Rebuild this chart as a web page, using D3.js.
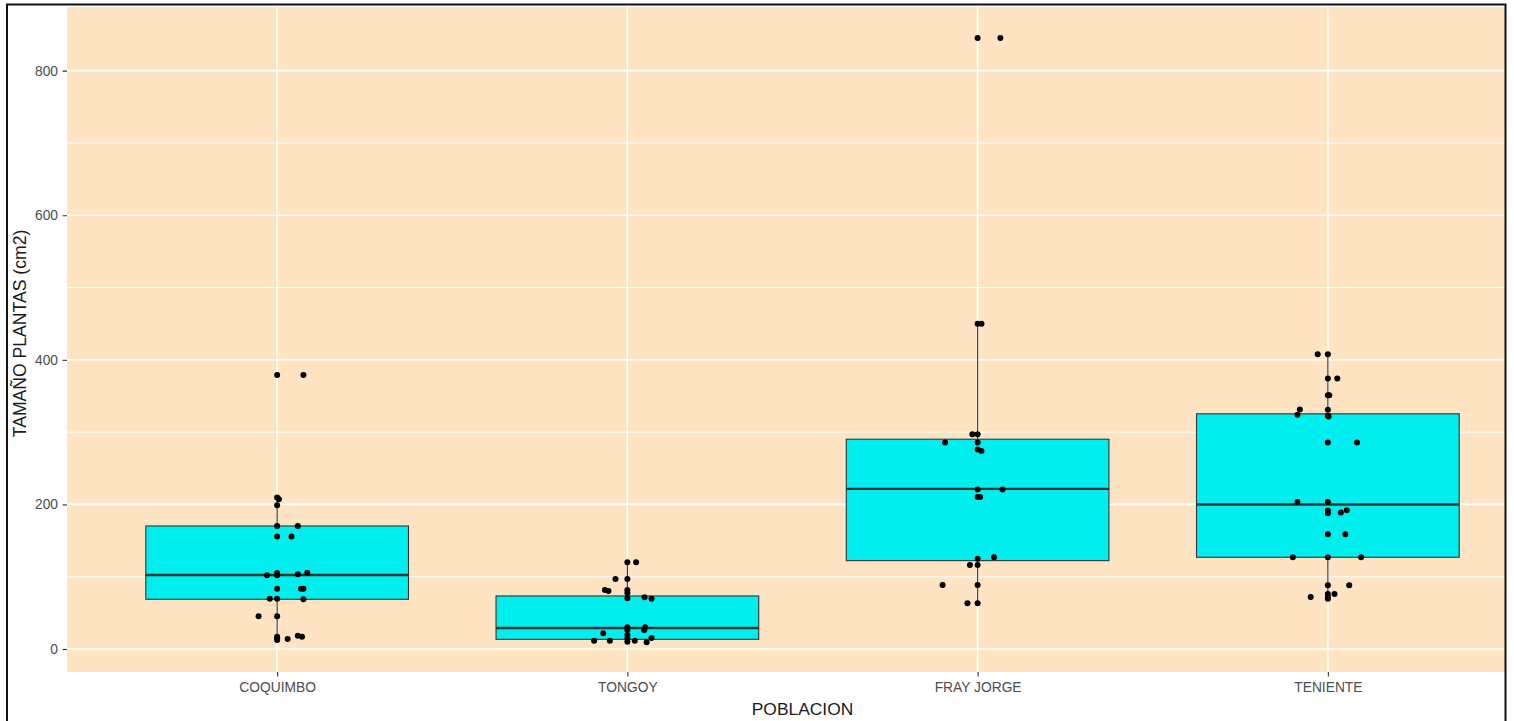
<!DOCTYPE html>
<html>
<head>
<meta charset="utf-8">
<script src="https://cdn.jsdelivr.net/npm/d3@7"></script>
<style>
  html, body { margin: 0; padding: 0; background: #ffffff; }
  svg { display: block; font-family: "Liberation Sans", Arial, sans-serif; }
</style>
</head>
<body>
<svg id="chart" width="1514" height="721"></svg>
<script>
// Populations on the x axis
const categories = ["COQUIMBO", "TONGOY", "FRAY JORGE", "TENIENTE"];

// Box plot summaries per population (cm2)
const whiskerLow  = [12, 9.5, 63, 70];
const q1          = [68.8, 13.4, 122.2, 126.9];
const medians     = [102.4, 29.1, 221.5, 199.8];
const q3          = [170.2, 73.4, 290.2, 325.3];
const whiskerHigh = [209, 120, 450, 408];

// Individual plant sizes (cm2) and their horizontal jitter (fraction of a category step)
const coquimboValues = [379, 379, 209.4, 207, 199, 170.2, 170.2, 155.5, 155.5, 102, 105, 102, 103.3, 105.6,
  83.5, 83.5, 83.5, 69.6, 69.6, 68.8, 45.2, 45.2, 17, 15, 12.5, 13.8, 18.4, 17];
const coquimboJitter = [0, 0.075, 0, 0.005, 0, 0, 0.059, 0, 0.041, -0.029, 0, 0, 0.059, 0.086,
  0, 0.068, 0.075, -0.021, 0, 0.075, -0.053, 0, 0, 0, 0, 0.03, 0.059, 0.071];

const tongoyValues = [120, 120, 96.9, 96.9, 81.7, 80.3, 81.7, 77.5, 70.1, 71.5, 69.6, 30, 26.3, 30, 26.3,
  21.7, 19.4, 14.8, 11.5, 11.5, 10.1, 11.5, 9.2, 15.2];
const tongoyJitter = [0, 0.025, -0.034, 0, -0.064, -0.054, 0, 0, 0, 0.049, 0.069, 0, 0, 0.051, 0.048,
  -0.069, 0, 0, -0.095, -0.05, 0, 0.021, 0.055, 0.069];

const frayJorgeValues = [845, 845, 449.8, 449.8, 297.1, 297.1, 285.6, 285.6, 275.9, 274, 220.5, 220.5,
  210.4, 210.4, 125, 126.9, 116.3, 116.3, 88.6, 88.6, 63.2, 63.2];
const frayJorgeJitter = [0, 0.065, 0, 0.011, -0.015, 0, -0.093, 0, 0, 0.011, 0, 0.071,
  0, 0.007, 0, 0.047, -0.022, 0, -0.1, 0, -0.029, 0];

const tenienteValues = [407.8, 407.8, 374.2, 374.2, 351, 351, 331.2, 323.9, 330.8, 322.5, 321.5, 285.6, 285.6,
  203.5, 203.5, 191.5, 187.8, 188.7, 192, 158.7, 158.7, 126.9, 126.9, 126.9, 88.1, 88.1, 76.1, 76.1, 72, 72, 69.6];
const tenienteJitter = [-0.029, 0, 0, 0.027, 0, 0.004, -0.08, -0.087, 0, 0, 0.002, 0, 0.083,
  -0.087, 0, 0, 0, 0.037, 0.054, 0, 0.05, -0.1, 0, 0.095, 0, 0.061, 0, 0.019, -0.049, 0, 0];

const yTicks = [0, 200, 400, 600, 800];
const yMinorTicks = [100, 300, 500, 700];

const groupValues = [coquimboValues, tongoyValues, frayJorgeValues, tenienteValues];
const groupJitter = [coquimboJitter, tongoyJitter, frayJorgeJitter, tenienteJitter];

// Layout
const panel = { left: 67, right: 1538, top: 7, bottom: 672 };
const svg = d3.select("#chart");

const x = d3.scalePoint().domain(categories).range([panel.left, panel.right]).padding(0.6);
const y = d3.scaleLinear().domain([-31.8, 888]).range([panel.bottom, panel.top]);
const step = x.step();
const boxWidth = step * 0.75;

// Everything sits inside a framed area
svg.append("defs").append("clipPath").attr("id", "frame")
  .append("rect").attr("x", 7).attr("y", 4.5).attr("width", 1498.5).attr("height", 740);

const g = svg.append("g").attr("clip-path", "url(#frame)");

// Panel background
g.append("rect")
  .attr("x", panel.left).attr("y", panel.top)
  .attr("width", panel.right - panel.left).attr("height", panel.bottom - panel.top)
  .attr("fill", "#FFE4C4");

// Grid lines
g.selectAll("line.minor").data(yMinorTicks).join("line")
  .attr("class", "minor")
  .attr("x1", panel.left).attr("x2", panel.right)
  .attr("y1", d => y(d)).attr("y2", d => y(d))
  .attr("stroke", "#ffffff").attr("stroke-width", 0.9);

g.selectAll("line.major").data(yTicks).join("line")
  .attr("class", "major")
  .attr("x1", panel.left).attr("x2", panel.right)
  .attr("y1", d => y(d)).attr("y2", d => y(d))
  .attr("stroke", "#ffffff").attr("stroke-width", 1.6);

g.selectAll("line.vmajor").data(categories).join("line")
  .attr("class", "vmajor")
  .attr("x1", d => x(d)).attr("x2", d => x(d))
  .attr("y1", panel.top).attr("y2", panel.bottom)
  .attr("stroke", "#ffffff").attr("stroke-width", 1.6);

// Box plots
const boxes = categories.map((c, i) => ({
  cat: c, lo: whiskerLow[i], q1: q1[i], med: medians[i], q3: q3[i], hi: whiskerHigh[i]
}));

const bg = g.selectAll("g.box").data(boxes).join("g").attr("class", "box");

bg.append("line")
  .attr("x1", d => x(d.cat)).attr("x2", d => x(d.cat))
  .attr("y1", d => y(d.q3)).attr("y2", d => y(d.hi))
  .attr("stroke", "#333333").attr("stroke-width", 1.1);

bg.append("line")
  .attr("x1", d => x(d.cat)).attr("x2", d => x(d.cat))
  .attr("y1", d => y(d.q1)).attr("y2", d => y(d.lo))
  .attr("stroke", "#333333").attr("stroke-width", 1.1);

bg.append("rect")
  .attr("x", d => x(d.cat) - boxWidth / 2)
  .attr("width", boxWidth)
  .attr("y", d => y(d.q3))
  .attr("height", d => y(d.q1) - y(d.q3))
  .attr("fill", "#00EEEE")
  .attr("stroke", "#333333").attr("stroke-width", 1.1);

bg.append("line")
  .attr("x1", d => x(d.cat) - boxWidth / 2).attr("x2", d => x(d.cat) + boxWidth / 2)
  .attr("y1", d => y(d.med)).attr("y2", d => y(d.med))
  .attr("stroke", "#333333").attr("stroke-width", 2.4);

// Points
const points = [];
categories.forEach((c, i) => {
  groupValues[i].forEach((v, j) => points.push({ cat: c, value: v, jitter: groupJitter[i][j] }));
});

g.selectAll("circle.pt").data(points).join("circle")
  .attr("class", "pt")
  .attr("cx", d => x(d.cat) + d.jitter * step)
  .attr("cy", d => y(d.value))
  .attr("r", 3)
  .attr("fill", "#000000");

// Axes
const yAxis = g.append("g")
  .attr("transform", `translate(${panel.left},0)`)
  .call(d3.axisLeft(y).tickValues(yTicks).tickSize(4.5).tickPadding(4.5));
yAxis.select(".domain").remove();
yAxis.selectAll("line").attr("stroke", "#333333").attr("stroke-width", 1.1);
yAxis.selectAll("text")
  .attr("fill", "#4D4D4D").attr("font-size", 13.8)
  .attr("font-family", "Liberation Sans, Arial, sans-serif");

const xAxis = g.append("g")
  .attr("transform", `translate(0,${panel.bottom})`)
  .call(d3.axisBottom(x).tickSize(4.5).tickPadding(6));
xAxis.select(".domain").remove();
xAxis.selectAll("line").attr("stroke", "#333333").attr("stroke-width", 1.1);
xAxis.selectAll("text")
  .attr("fill", "#4D4D4D").attr("font-size", 13.8)
  .attr("font-family", "Liberation Sans, Arial, sans-serif");

// Axis titles
g.append("text")
  .attr("x", (panel.left + panel.right) / 2)
  .attr("y", 715)
  .attr("text-anchor", "middle")
  .attr("font-size", 17.4)
  .attr("fill", "#1a1a1a")
  .text("POBLACION");

g.append("text")
  .attr("transform", `translate(26,${(panel.top + panel.bottom) / 2 - 6}) rotate(-90)`)
  .attr("text-anchor", "middle")
  .attr("font-size", 17.6)
  .attr("fill", "#1a1a1a")
  .text("TAMAÑO PLANTAS (cm2)");

// Frame
svg.append("path")
  .attr("d", "M7,740 L7,4.5 L1505.5,4.5 L1505.5,740")
  .attr("fill", "none")
  .attr("stroke", "#111111")
  .attr("stroke-width", 2);
</script>
</body>
</html>
